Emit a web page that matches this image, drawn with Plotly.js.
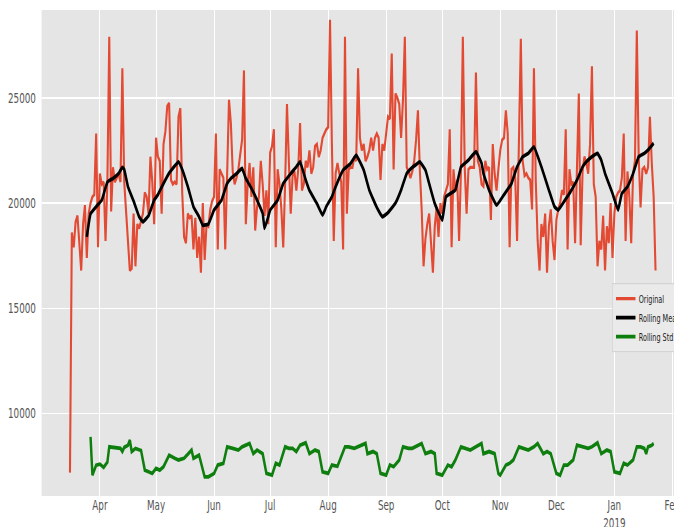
<!DOCTYPE html>
<html>
<head>
<meta charset="utf-8">
<script src="https://cdn.plot.ly/plotly-3.0.1.min.js"></script>
<style>
html,body{margin:0;padding:0;background:#fff;overflow:hidden;}
#wrap{width:674px;height:527px;overflow:hidden;position:relative;}
#chart{width:1037px;height:527px;transform:scaleX(0.65);transform-origin:0 0;}
</style>
</head>
<body>
<div id="wrap"><div id="chart"></div></div>
<script>
// Daily original series, starting 2018-03-16
const originalStart = '2018-03-16';
const originalValues = [
7200,18600,17900,19100,19400,18200,16800,19000,19900,17400,19500,20000,20300,20400,23300,17900,
21400,20900,21000,18200,21000,27900,19600,21700,21000,21200,21400,21000,26400,21000,19500,18100,
16800,16900,19500,17000,19000,18800,19200,19500,20500,20300,19500,22200,21000,19000,
23100,22200,22000,19500,22800,23400,24600,24750,21100,20900,21000,20900,24100,24500,20500,18400,
18100,19500,19300,19400,17800,19300,17400,18400,16700,20000,17300,19000,18900,19700,20100,
20300,23300,17800,21600,21400,21200,17800,21200,24900,23800,21500,20900,21200,21600,22400,23000,
26300,19000,20900,21900,20300,21700,18700,19800,20300,22000,20900,19400,20600,19000,
22400,22700,23500,17900,21600,20900,19700,17900,20900,24700,22000,19500,21300,21500,20600,21600,
23800,20600,20900,22000,21700,22500,21400,21700,22700,22800,22200,22500,23100,23300,23500,
23600,28700,22800,18200,21400,21900,21400,21000,17800,27900,19500,21600,21700,21700,22200,22000,
26400,23100,22500,22800,22000,22200,22500,23100,22500,23100,23300,23100,21100,22800,22500,
23300,24100,24000,27100,21600,25200,25000,24700,23100,24900,27900,21700,21500,21200,21500,22000,
23000,24400,21600,19700,17000,18300,19000,19500,18100,16700,18900,19800,18400,20000,
19500,20300,20600,20900,23500,17900,21600,20600,21100,18200,21600,27900,21700,19500,21600,21700,
21700,21700,26200,22000,21700,20900,20800,22000,21600,21700,19200,22800,21400,20600,21600,
22500,23000,23100,24400,23300,17900,21600,21700,21200,18200,22500,27800,22000,21300,21400,21200,
21100,19700,26400,21000,18200,16800,19000,18400,19500,16700,18900,19700,18200,17300,
19200,19700,20000,20600,20400,23500,17800,21600,20900,21000,18100,21600,25200,18000,21500,22200,
21900,21400,22800,26500,20900,20300,17000,18200,17800,19400,16800,18900,18100,20000,17400,
19500,20300,20500,20600,21200,23300,18200,21500,20300,18100,21400,22000,28200,22200,19800,21600,
21700,21400,21700,24100,21900,20300,16800
];

// Rolling mean
const meanDates = ['2018-03-25','2018-03-27','2018-03-30','2018-04-02','2018-04-05','2018-04-08','2018-04-11','2018-04-13','2018-04-14','2018-04-16','2018-04-19','2018-04-22','2018-04-24','2018-04-27','2018-04-30',
'2018-05-02','2018-05-05','2018-05-08','2018-05-13','2018-05-15','2018-05-18','2018-05-21','2018-05-24','2018-05-26','2018-05-29',
'2018-06-01','2018-06-05','2018-06-08','2018-06-10','2018-06-13','2018-06-16','2018-06-18','2018-06-21','2018-06-24','2018-06-27','2018-06-28','2018-06-30',
'2018-07-01','2018-07-05','2018-07-08','2018-07-12','2018-07-15','2018-07-17','2018-07-20','2018-07-22','2018-07-26','2018-07-29','2018-07-31',
'2018-08-03','2018-08-05','2018-08-09','2018-08-13','2018-08-16','2018-08-20','2018-08-23','2018-08-27','2018-08-30',
'2018-09-02','2018-09-06','2018-09-09','2018-09-12','2018-09-15','2018-09-17','2018-09-19','2018-09-22','2018-09-24','2018-09-27',
'2018-10-01','2018-10-03','2018-10-08','2018-10-11','2018-10-15','2018-10-19','2018-10-22','2018-10-23','2018-10-26','2018-10-30',
'2018-11-03','2018-11-07','2018-11-10','2018-11-13','2018-11-16','2018-11-19','2018-11-23','2018-11-27','2018-11-30',
'2018-12-02','2018-12-05','2018-12-08','2018-12-12','2018-12-15','2018-12-17','2018-12-20','2018-12-23','2018-12-25','2018-12-27','2018-12-31',
'2019-01-03','2019-01-05','2019-01-08','2019-01-11','2019-01-14','2019-01-17','2019-01-19','2019-01-22'];
const meanValues = [18400,19500,19830,20140,21000,21170,21400,21700,21600,20780,20100,19350,19110,19400,20140,
20400,20930,21420,21960,21600,20780,19830,19350,18950,19000,
19670,20140,20930,21170,21400,21650,21170,20700,20140,19510,18800,19350,
19670,20140,20930,21400,21720,21960,21100,20600,19980,19430,19830,
20300,20780,21570,21880,22280,21570,20620,19800,19350,
19550,20000,20620,21410,21700,21830,21960,21570,20930,19980,
19190,20300,20620,21720,22040,22440,21900,21410,20620,19900,
20400,20930,21720,22200,22360,22670,21720,20620,19830,
19670,20060,20460,21090,21720,21960,22200,22360,22040,21410,20460,
19670,20460,20780,21400,22200,22360,22520,22840];

// Rolling std
const stdDates = ['2018-03-27','2018-03-28','2018-03-30','2018-04-01','2018-04-03','2018-04-05','2018-04-06','2018-04-09','2018-04-12','2018-04-13','2018-04-14','2018-04-16','2018-04-17','2018-04-18','2018-04-20','2018-04-23','2018-04-25','2018-04-27','2018-04-29',
'2018-05-01','2018-05-03','2018-05-05','2018-05-08','2018-05-11','2018-05-13','2018-05-16','2018-05-18','2018-05-20','2018-05-21','2018-05-24','2018-05-27','2018-05-29',
'2018-06-01','2018-06-03','2018-06-06','2018-06-08','2018-06-11','2018-06-14','2018-06-16','2018-06-18','2018-06-20','2018-06-22','2018-06-24','2018-06-27','2018-06-29',
'2018-07-02','2018-07-04','2018-07-06','2018-07-09','2018-07-11','2018-07-13','2018-07-15','2018-07-17','2018-07-20','2018-07-22','2018-07-25','2018-07-27','2018-07-29',
'2018-08-01','2018-08-03','2018-08-06','2018-08-10','2018-08-12','2018-08-15','2018-08-17','2018-08-18','2018-08-21','2018-08-22','2018-08-25','2018-08-27','2018-08-29',
'2018-09-01','2018-09-03','2018-09-05','2018-09-08','2018-09-10','2018-09-13','2018-09-15','2018-09-18','2018-09-20','2018-09-22','2018-09-25','2018-09-27','2018-09-28',
'2018-10-01','2018-10-04','2018-10-06','2018-10-08','2018-10-11','2018-10-14','2018-10-16','2018-10-19','2018-10-22','2018-10-23','2018-10-26','2018-10-29','2018-10-31',
'2018-11-01','2018-11-04','2018-11-06','2018-11-08','2018-11-11','2018-11-14','2018-11-16','2018-11-19','2018-11-21','2018-11-24','2018-11-26','2018-11-28',
'2018-12-01','2018-12-03','2018-12-05','2018-12-07','2018-12-10','2018-12-12','2018-12-15','2018-12-18','2018-12-20','2018-12-23','2018-12-25','2018-12-28','2018-12-30',
'2019-01-01','2019-01-04','2019-01-06','2019-01-08','2019-01-11','2019-01-13','2019-01-15','2019-01-17','2019-01-18','2019-01-19','2019-01-21','2019-01-22'];
const stdValues = [8900,7080,7555,7600,7450,7700,8425,8400,8350,8200,8400,8500,8740,8200,8350,8250,7320,7240,7160,
7400,7320,7480,8030,7880,7800,7880,8100,8270,7880,8030,7000,7000,
7160,7560,7640,8425,8350,8270,8425,8500,8585,8100,8270,8100,7160,
7080,7640,7560,8425,8350,8350,8200,8500,8615,8100,8270,8200,7240,
7160,7560,7500,8425,8425,8350,8425,8500,8585,8100,8200,8100,7160,
7080,7560,7480,7800,8425,8350,8350,8500,8585,8100,8200,8100,7160,
7080,7560,7480,7800,8425,8350,8270,8425,8585,8100,8200,8100,7160,
7080,7560,7640,7800,8425,8350,8270,8425,8585,8100,8200,8100,
7160,7080,7560,7560,7800,8505,8425,8350,8425,8615,8100,8270,8200,
7240,7160,7640,7560,7800,8425,8425,8350,8100,8425,8500,8585];

const monthTicks = ['2018-04-01','2018-05-01','2018-06-01','2018-07-01','2018-08-01','2018-09-01','2018-10-01','2018-11-01','2018-12-01','2019-01-01','2019-02-01'];
const monthLabels = ['Apr','May','Jun','Jul','Aug','Sep','Oct','Nov','Dec','Jan<br>2019','Feb'];
const yTicks = [10000,15000,20000,25000];
const yLabels = ['10000','15000','20000','25000'];

const seriesNames = ['Original','Rolling Mean','Rolling Std'];

// dates for the daily series
const originalDates = [];
(function(){
  const p = originalStart.split('-').map(Number);
  for (let i = 0; i < originalValues.length; i++) {
    const d = new Date(Date.UTC(p[0], p[1]-1, p[2]+i));
    originalDates.push(d.toISOString().slice(0,10));
  }
})();

const traces = [
  {x: originalDates, y: originalValues, type:'scatter', mode:'lines', name: seriesNames[0],
   line:{color:'#E24A33', width:3.2}},
  {x: meanDates, y: meanValues, type:'scatter', mode:'lines', name: seriesNames[1],
   line:{color:'#000000', width:3.8, shape:'spline', smoothing:0.3}},
  {x: stdDates, y: stdValues, type:'scatter', mode:'lines', name: seriesNames[2],
   line:{color:'#0E7F0E', width:3.8}}
];

const axisFont = {family:'DejaVu Sans, sans-serif', size:13.5, color:'#555555'};

const layout = {
  width:1037, height:527,
  margin:{l:64, r:0, t:10, b:31, autoexpand:false},
  paper_bgcolor:'#ffffff', plot_bgcolor:'#E5E5E5',
  font:{family:'DejaVu Sans, sans-serif', size:13.5, color:'#555555'},
  showlegend:true,
  xaxis:{
    type:'date', range:['2018-02-28 20:00','2019-02-01 21:36'],
    tickmode:'array', tickvals: monthTicks, ticktext: monthLabels,
    showgrid:true, gridcolor:'#ffffff', gridwidth:1.6,
    zeroline:false, showline:false,
    ticks:'', ticklabeloverflow:'allow',
    tickfont: axisFont
  },
  yaxis:{
    range:[6090, 29170],
    tickmode:'array', tickvals: yTicks, ticktext: yLabels,
    showgrid:true, gridcolor:'#ffffff', gridwidth:1.6,
    zeroline:false, showline:false,
    ticks:'outside', ticklen:5, tickcolor:'rgba(0,0,0,0)',
    tickfont: axisFont
  },
  legend:{
    x:0.902, y:0.438, xanchor:'left', yanchor:'top',
    bgcolor:'#EAEAEA', bordercolor:'#D0D0D0', borderwidth:1,
    font:{family:'DejaVu Sans, sans-serif', size:10, color:'#222222'},
    itemwidth:30
  }
};

Plotly.newPlot('chart', traces, layout, {displayModeBar:false, staticPlot:true});
</script>
</body>
</html>
